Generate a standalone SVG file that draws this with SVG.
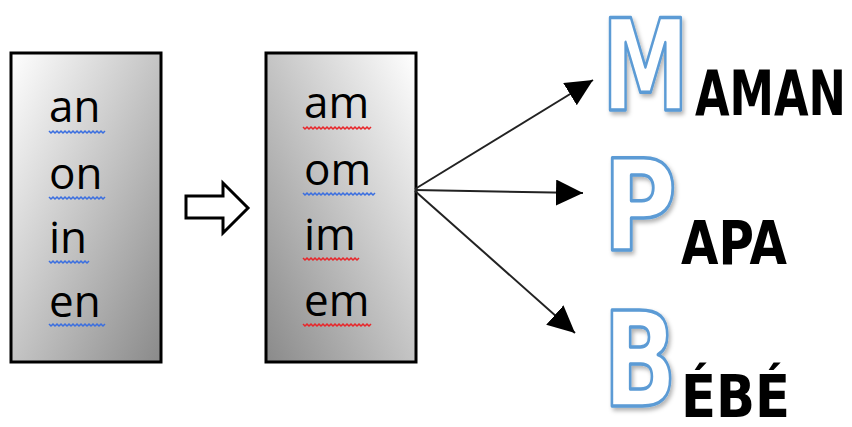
<svg xmlns="http://www.w3.org/2000/svg" width="852" height="427" viewBox="0 0 852 427">
<defs>
<linearGradient id="g1" x1="0" y1="0" x2="1" y2="1">
<stop offset="0" stop-color="#ffffff"/>
<stop offset="1" stop-color="#8a8a8a"/>
</linearGradient>
<linearGradient id="g2" x1="1" y1="0" x2="0" y2="1">
<stop offset="0" stop-color="#ffffff"/>
<stop offset="1" stop-color="#8a8a8a"/>
</linearGradient>
<marker id="ah" markerUnits="userSpaceOnUse" markerWidth="28" markerHeight="28" refX="27" refY="13" orient="auto">
<path d="M0,0 L27,13 L0,26 Z" fill="#000"/>
</marker>
<filter id="sh" x="-20%" y="-20%" width="150%" height="150%">
<feDropShadow dx="2" dy="3" stdDeviation="2" flood-color="#000" flood-opacity="0.3"/>
</filter>
<style>
.box{stroke:#000;stroke-width:3}
.syl{font-family:"Open Sans","DejaVu Sans",sans-serif;font-size:44px;fill:#000}
.wb{fill:none;stroke:#3b6fe0;stroke-width:1.5}
.wr{fill:none;stroke:#e8262a;stroke-width:1.5}
.big{font-family:"DejaVu Sans",sans-serif;font-weight:bold;fill:#fff;stroke:#5b9bd5;stroke-width:3.5;stroke-linejoin:round;filter:url(#sh)}
.word{font-family:"DejaVu Sans",sans-serif;font-weight:bold;fill:#000}
.con{stroke:#222;stroke-width:2;fill:none}
</style>
</defs>

<g id="box-nasal-n">
<rect class="box" x="11" y="53" width="150" height="309" fill="url(#g1)"/>
<text class="syl" x="49" y="122">an</text>
<path class="wb" d="M49,131 l2,2 2,-2 2,2 2,-2 2,2 2,-2 2,2 2,-2 2,2 2,-2 2,2 2,-2 2,2 2,-2 2,2 2,-2 2,2 2,-2 2,2 2,-2 2,2 2,-2 2,2 2,-2 2,2 2,-2 2,2 2,-2"/>
<text class="syl" x="49" y="189">on</text>
<path class="wb" d="M49,197 l2,2 2,-2 2,2 2,-2 2,2 2,-2 2,2 2,-2 2,2 2,-2 2,2 2,-2 2,2 2,-2 2,2 2,-2 2,2 2,-2 2,2 2,-2 2,2 2,-2 2,2 2,-2 2,2 2,-2 2,2 2,-2"/>
<text class="syl" x="49" y="253">in</text>
<path class="wb" d="M49,261 l2,2 2,-2 2,2 2,-2 2,2 2,-2 2,2 2,-2 2,2 2,-2 2,2 2,-2 2,2 2,-2 2,2 2,-2 2,2 2,-2 2,2 2,-2"/>
<text class="syl" x="49" y="317">en</text>
<path class="wb" d="M49,324 l2,2 2,-2 2,2 2,-2 2,2 2,-2 2,2 2,-2 2,2 2,-2 2,2 2,-2 2,2 2,-2 2,2 2,-2 2,2 2,-2 2,2 2,-2 2,2 2,-2 2,2 2,-2 2,2 2,-2 2,2 2,-2"/>
</g>

<g id="block-arrow">
<path d="M186,196 L223,196 L223,183 L248,208 L223,233 L223,218 L186,218 Z" fill="#fff" stroke="#000" stroke-width="3" stroke-linejoin="miter"/>
</g>

<g id="box-nasal-m">
<rect class="box" x="266" y="53" width="150" height="309" fill="url(#g2)"/>
<text class="syl" x="304" y="118">am</text>
<path class="wr" d="M303,127 l2,2 2,-2 2,2 2,-2 2,2 2,-2 2,2 2,-2 2,2 2,-2 2,2 2,-2 2,2 2,-2 2,2 2,-2 2,2 2,-2 2,2 2,-2 2,2 2,-2 2,2 2,-2 2,2 2,-2 2,2 2,-2 2,2 2,-2 2,2 2,-2 2,2 2,-2"/>
<text class="syl" x="304" y="185">om</text>
<path class="wb" d="M303,193 l2,2 2,-2 2,2 2,-2 2,2 2,-2 2,2 2,-2 2,2 2,-2 2,2 2,-2 2,2 2,-2 2,2 2,-2 2,2 2,-2 2,2 2,-2 2,2 2,-2 2,2 2,-2 2,2 2,-2 2,2 2,-2 2,2 2,-2 2,2 2,-2 2,2 2,-2 2,2 2,-2"/>
<text class="syl" x="304" y="250">im</text>
<path class="wr" d="M303,258 l2,2 2,-2 2,2 2,-2 2,2 2,-2 2,2 2,-2 2,2 2,-2 2,2 2,-2 2,2 2,-2 2,2 2,-2 2,2 2,-2 2,2 2,-2 2,2 2,-2 2,2 2,-2 2,2 2,-2 2,2 2,-2"/>
<text class="syl" x="304" y="316">em</text>
<path class="wr" d="M303,324 l2,2 2,-2 2,2 2,-2 2,2 2,-2 2,2 2,-2 2,2 2,-2 2,2 2,-2 2,2 2,-2 2,2 2,-2 2,2 2,-2 2,2 2,-2 2,2 2,-2 2,2 2,-2 2,2 2,-2 2,2 2,-2 2,2 2,-2 2,2 2,-2 2,2 2,-2"/>
</g>

<g id="connectors">
<line class="con" x1="415" y1="189" x2="593" y2="80" marker-end="url(#ah)"/>
<line class="con" x1="415" y1="190" x2="583" y2="193" marker-end="url(#ah)"/>
<line class="con" x1="415" y1="191" x2="575" y2="333" marker-end="url(#ah)"/>
</g>

<g id="word-maman">
<text class="big" x="602" y="110" font-size="126" textLength="87" lengthAdjust="spacingAndGlyphs">M</text>
<text class="word" x="695" y="115" font-size="62" textLength="151" lengthAdjust="spacingAndGlyphs">AMAN</text>
</g>

<g id="word-papa">
<text class="big" x="603" y="250" font-size="126" textLength="74" lengthAdjust="spacingAndGlyphs">P</text>
<text class="word" x="681" y="264" font-size="60" textLength="106" lengthAdjust="spacingAndGlyphs">APA</text>
</g>

<g id="word-bebe">
<text class="big" x="603" y="406" font-size="132" textLength="74" lengthAdjust="spacingAndGlyphs">B</text>
<text class="word" x="681" y="417" font-size="58" textLength="109" lengthAdjust="spacingAndGlyphs">ÉBÉ</text>
</g>
</svg>
